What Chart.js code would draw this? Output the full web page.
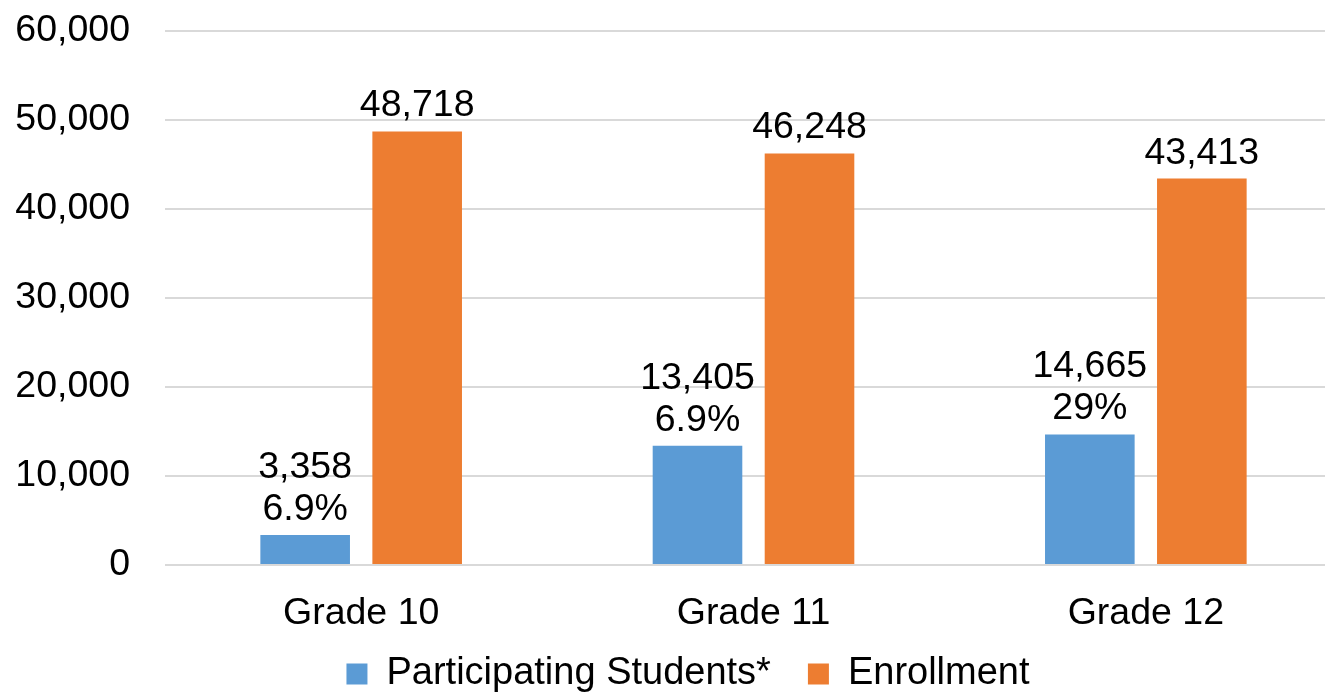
<!DOCTYPE html>
<html>
<head>
<meta charset="utf-8">
<script src="https://cdn.jsdelivr.net/npm/chart.js@4/dist/chart.umd.min.js"></script>
<style>
  html, body { margin: 0; padding: 0; background: #fff; overflow: hidden; }
  #wrap { position: relative; width: 1380px; height: 693px; }
</style>
</head>
<body>
<div id="wrap"><canvas id="c"></canvas></div>
<script>
const categories = ['Grade 10', 'Grade 11', 'Grade 12'];
const participating = [3358, 13405, 14665];
const enrollment = [48718, 46248, 43413];
const participatingPct = ['6.9%', '6.9%', '29%'];
const seriesNames = ['Participating Students*', 'Enrollment'];
const yMin = 0, yMax = 60000, yStep = 10000;

const FONT = '"Liberation Sans", Arial, sans-serif';
const fmt = v => Number(v).toLocaleString('en-US');

const labelPlugin = {
  id: 'barLabels',
  afterDatasetsDraw(chart) {
    const ctx = chart.ctx;
    ctx.save();
    ctx.font = '37.5px ' + FONT;
    ctx.fillStyle = '#000';
    ctx.textAlign = 'center';
    ctx.textBaseline = 'alphabetic';
    chart.data.datasets.forEach((ds, di) => {
      const meta = chart.getDatasetMeta(di);
      meta.data.forEach((bar, i) => {
        const lines = ds.labelLines[i];
        const baseY = bar.y - 15;
        for (let k = 0; k < lines.length; k++) {
          ctx.fillText(lines[lines.length - 1 - k], bar.x, baseY - k * 42);
        }
      });
    });
    ctx.restore();
  }
};

// place the legend row where the reference has it
const legendPlace = {
  id: 'legendPlace',
  afterLayout(chart) {
    const lg = chart.legend;
    if (!lg) return;
    const dx = 688 - (lg.left + lg.right) / 2;
    lg.left += dx; lg.right += dx;
    lg.top = 618;
    lg.bottom = 693;
    lg.height = lg.bottom - lg.top;
  }
};

new Chart(document.getElementById('c'), {
  type: 'bar',
  data: {
    labels: categories,
    datasets: [
      {
        label: seriesNames[0],
        data: participating,
        backgroundColor: '#5B9BD5',
        labelLines: participating.map((v, i) => [fmt(v), participatingPct[i]])
      },
      {
        label: seriesNames[1],
        data: enrollment,
        backgroundColor: '#ED7D31',
        labelLines: enrollment.map(v => [fmt(v)])
      }
    ]
  },
  options: {
    responsive: true,
    maintainAspectRatio: false,
    animation: false,
    datasets: { bar: { categoryPercentage: 0.571, barPercentage: 0.8 } },
    layout: { padding: { left: 0, right: 38, top: 31, bottom: 0 } },
    scales: {
      x: {
        grid: { display: false },
        border: { display: false },
        ticks: { color: '#000', font: { family: FONT, size: 37.5 }, padding: 18 },
        afterFit(s) { s.height = 70; }
      },
      y: {
        min: yMin, max: yMax,
        grid: { color: '#D9D9D9', lineWidth: 2, drawTicks: false },
        border: { display: false },
        ticks: { stepSize: yStep, color: '#000', font: { family: FONT, size: 37.5 }, padding: 35,
                 callback: v => fmt(v) },
        afterFit(s) { s.width = 165; s.paddingTop = 0; }
      }
    },
    plugins: {
      legend: {
        position: 'bottom',
        maxHeight: 58,
        labels: { boxWidth: 21, boxHeight: 21, padding: 37, color: '#000',
                  font: { family: FONT, size: 38 } }
      },
      tooltip: { enabled: false }
    }
  },
  plugins: [labelPlugin, legendPlace]
});
</script>
</body>
</html>
